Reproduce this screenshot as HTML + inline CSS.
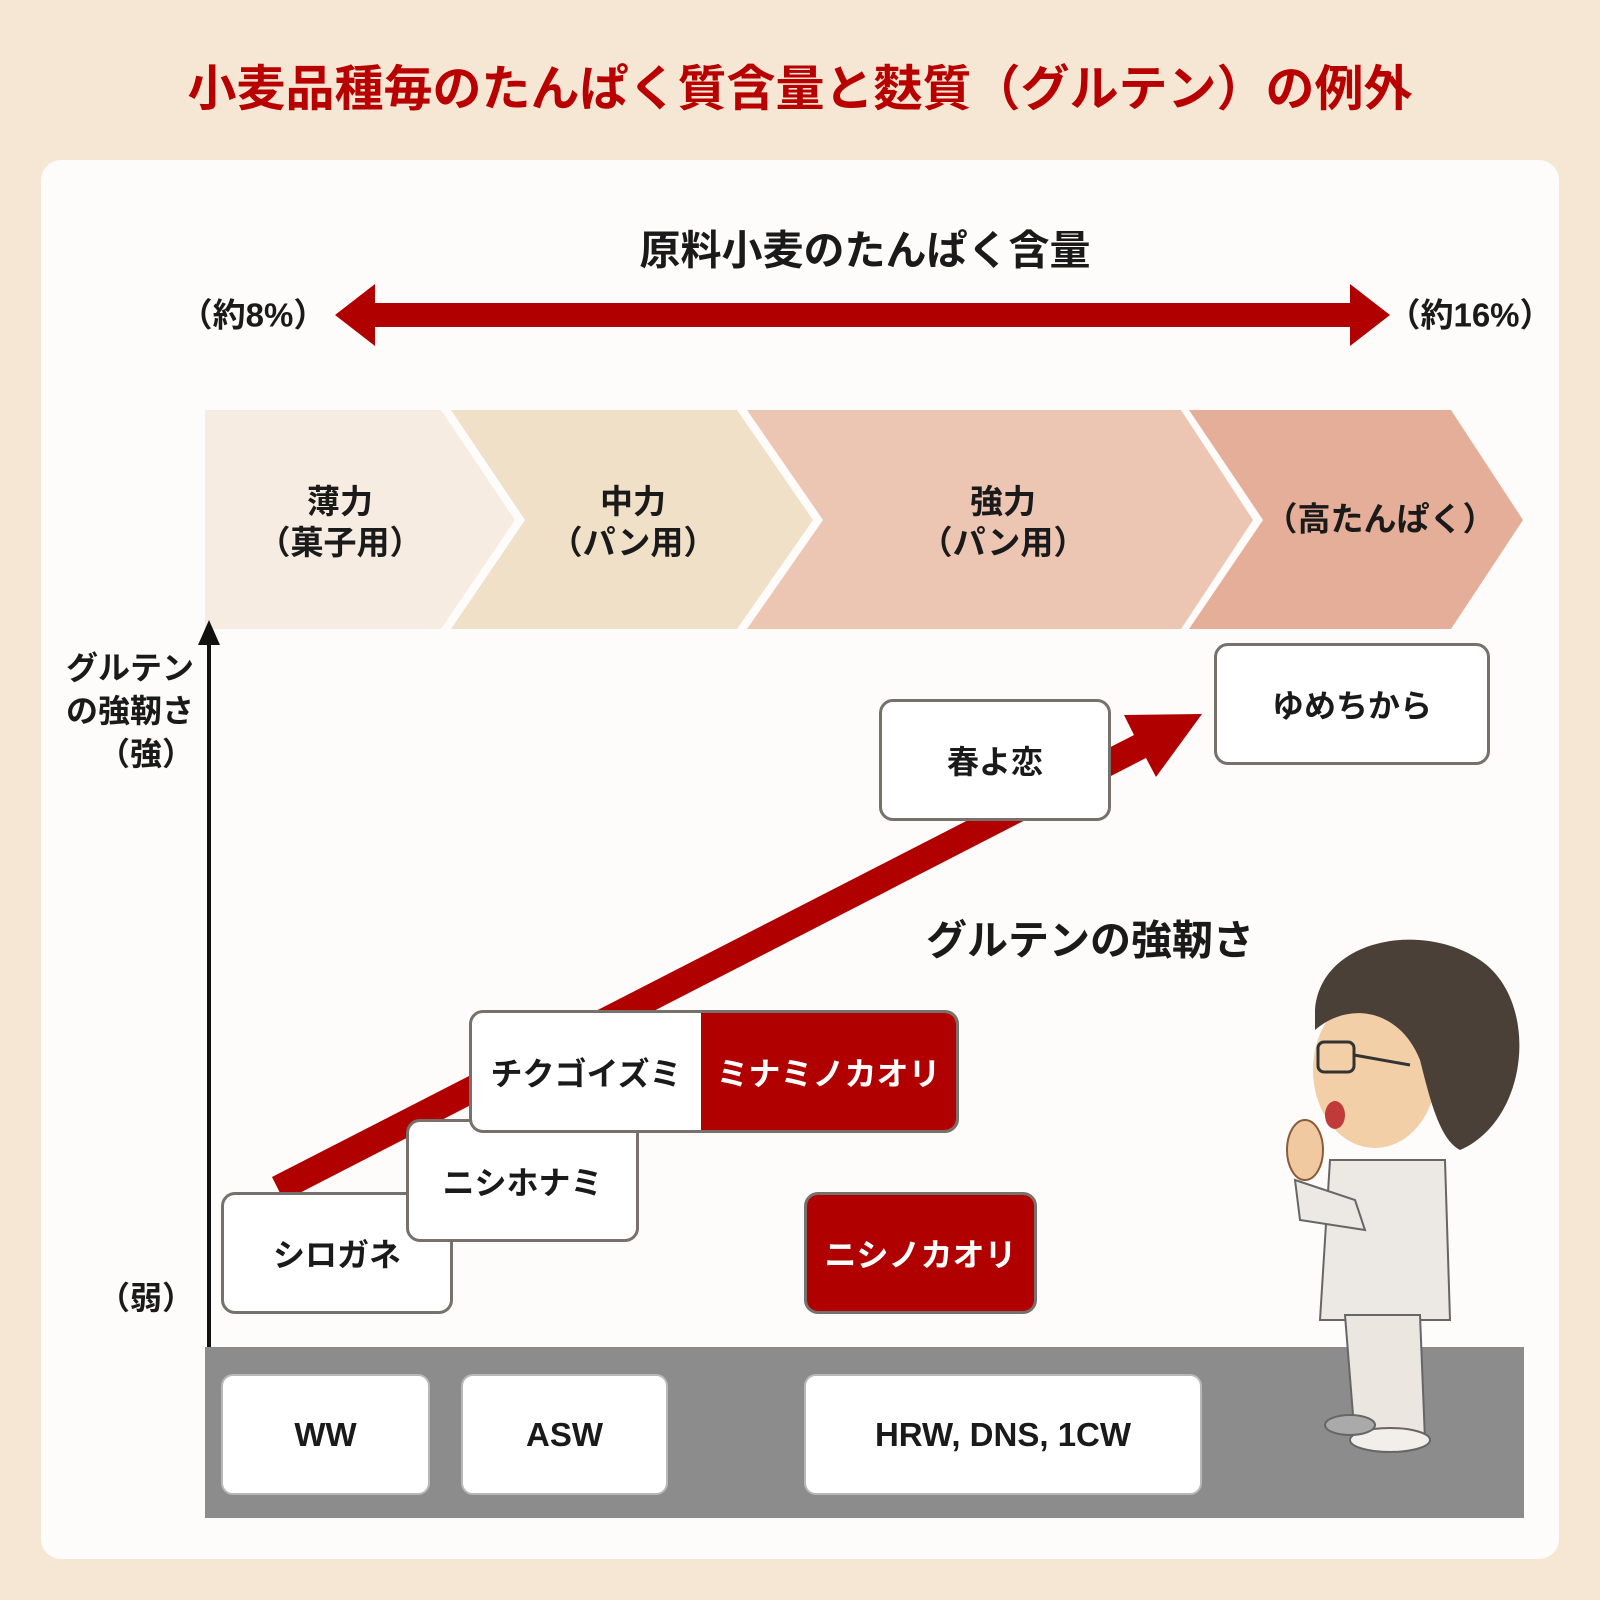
<!DOCTYPE html>
<html><head><meta charset="utf-8"><style>
body{margin:0;width:1600px;height:1600px;background:#f6e6d4;position:relative;overflow:hidden;font-family:"Liberation Sans","Noto Sans CJK JP",sans-serif;font-weight:bold;color:#1a1a1a}
.a{position:absolute}
.t{position:absolute;white-space:nowrap;text-align:center;transform:translate(-50%,-50%);line-height:1.25}
.box{position:absolute;box-sizing:border-box;border:3px solid #77716b;border-radius:14px;background:#fff;display:flex;align-items:center;justify-content:center;font-size:32px}
.red{background:#b00000;color:#fff}
.wb{position:absolute;box-sizing:border-box;background:#fff;border:2px solid #b8b8b8;border-radius:12px;display:flex;align-items:center;justify-content:center;font-size:33px}
</style></head><body>
<div class="t" style="left:800px;top:90px;font-size:49px;color:#b80000">小麦品種毎のたんぱく質含量と麩質（グルテン）の例外</div>
<div class="a" style="left:41px;top:160px;width:1518px;height:1399px;background:#fdfcfa;border-radius:20px"></div>
<div class="t" style="left:865px;top:251px;font-size:41px">原料小麦のたんぱく含量</div>
<div class="t" style="left:253px;top:315px;font-size:33px">（約8%）</div>
<div class="t" style="left:1470px;top:315px;font-size:33px">（約16%）</div>
<svg class="a" style="left:0;top:0" width="1600" height="1600">
<polygon points="335,315 375,284 375,303 1350,303 1350,284 1390,315 1350,346 1350,327 375,327 375,346" fill="#b00000"/>
<polygon points="205,410 441,410 515,520 441,629 205,629" fill="#f7ece1"/>
<polygon points="451,410 737,410 813,520 737,629 451,629 525,520" fill="#efe0c7"/>
<polygon points="747,410 1181,410 1253,520 1181,629 747,629 823,520" fill="#edc5b3"/>
<polygon points="1189,410 1451,410 1523,520 1451,629 1189,629 1263,520" fill="#e5ae98"/>
<rect x="205" y="1347" width="1319" height="171" fill="#8c8c8c"/>
<line x1="209" y1="1347" x2="209" y2="640" stroke="#111" stroke-width="4"/>
<polygon points="209,620 198,645 220,645" fill="#111"/>
<polygon points="272,1177 1134,735 1124,715 1202,714 1156,777 1146,758 284,1201" fill="#b00000"/>
<g>
<path d="M1330,1160 L1445,1160 L1450,1320 L1320,1320 Z" fill="#ece8e3" stroke="#666" stroke-width="2"/>
<path d="M1345,1315 L1420,1315 L1425,1440 L1355,1440 Z" fill="#ebe6e0" stroke="#666" stroke-width="2"/>
<ellipse cx="1390" cy="1440" rx="40" ry="12" fill="#f2eeea" stroke="#666" stroke-width="2"/>
<ellipse cx="1350" cy="1425" rx="25" ry="10" fill="#aaa" stroke="#666" stroke-width="2"/>
<path d="M1295,1180 L1355,1200 L1365,1230 L1300,1220 Z" fill="#ece8e3" stroke="#666" stroke-width="2"/>
<ellipse cx="1305" cy="1150" rx="18" ry="30" fill="#f0c9a0" stroke="#8a5a3a" stroke-width="2"/>
<ellipse cx="1375" cy="1070" rx="62" ry="78" fill="#f3cfa8"/>
<path d="M1315,1010 C1320,940 1420,920 1480,960 C1540,1000 1530,1120 1460,1150 C1440,1140 1430,1100 1420,1060 C1400,1010 1350,1000 1315,1030 Z" fill="#4a4038"/>
<rect x="1318" y="1042" width="36" height="30" rx="6" fill="none" stroke="#333" stroke-width="3"/>
<line x1="1354" y1="1055" x2="1410" y2="1065" stroke="#333" stroke-width="3"/>
<ellipse cx="1335" cy="1115" rx="10" ry="14" fill="#c03a3a"/>
</g>
</svg>
<div class="t" style="left:340px;top:522px;font-size:33px">薄力<br>（菓子用）</div>
<div class="t" style="left:633px;top:522px;font-size:33px">中力<br>（パン用）</div>
<div class="t" style="left:1003px;top:522px;font-size:33px">強力<br>（パン用）</div>
<div class="t" style="left:1380px;top:519px;font-size:33px">（高たんぱく）</div>
<div class="a" style="right:1406px;top:647px;font-size:32px;text-align:right;line-height:43px;white-space:nowrap">グルテン<br>の強靭さ<br>（強）</div>
<div class="a" style="right:1406px;top:1273px;font-size:32px;white-space:nowrap">（弱）</div>
<div class="t" style="left:1090px;top:941px;font-size:41px">グルテンの強靭さ</div>
<div class="box" style="left:879px;top:699px;width:232px;height:122px">春よ恋</div>
<div class="box" style="left:1214px;top:643px;width:276px;height:122px">ゆめちから</div>
<div class="box" style="left:221px;top:1192px;width:232px;height:122px">シロガネ</div>
<div class="box" style="left:406px;top:1119px;width:233px;height:123px">ニシホナミ</div>
<div class="box" style="left:469px;top:1010px;width:490px;height:123px;justify-content:flex-start;overflow:hidden">
<div style="width:228px;text-align:center">チクゴイズミ</div>
<div class="red" style="position:absolute;left:229px;top:0;right:0;bottom:0;display:flex;align-items:center;justify-content:center">ミナミノカオリ</div></div>
<div class="box red" style="left:804px;top:1192px;width:233px;height:122px">ニシノカオリ</div>
<div class="wb" style="left:221px;top:1374px;width:209px;height:121px">WW</div>
<div class="wb" style="left:461px;top:1374px;width:207px;height:121px">ASW</div>
<div class="wb" style="left:804px;top:1374px;width:398px;height:121px">HRW, DNS, 1CW</div>
</body></html>
